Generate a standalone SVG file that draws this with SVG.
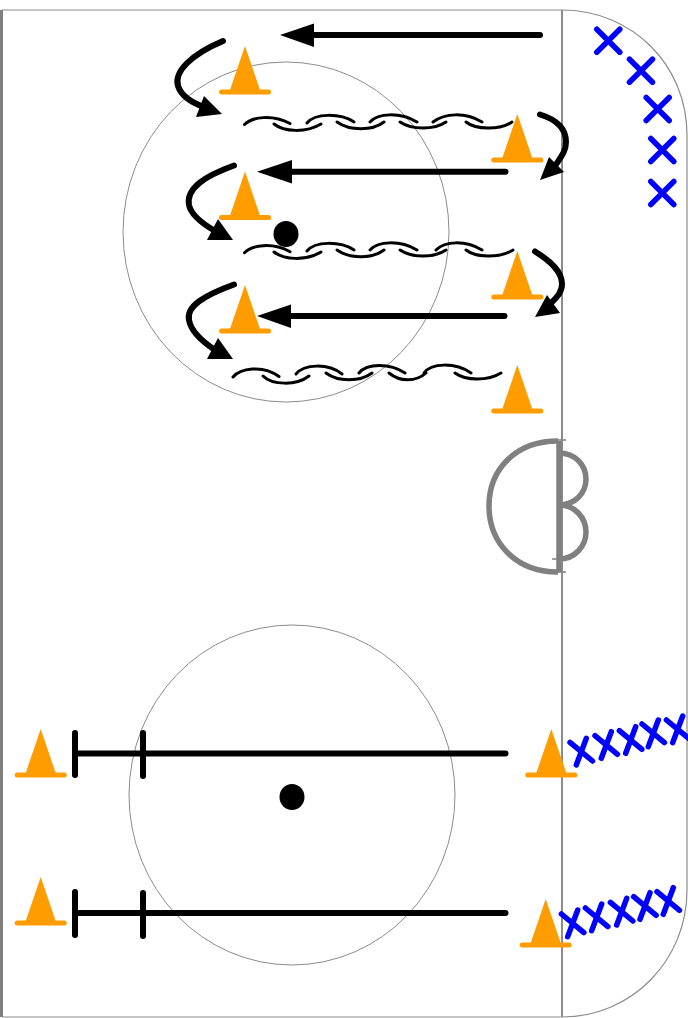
<svg xmlns="http://www.w3.org/2000/svg" width="688" height="1018" viewBox="0 0 688 1018">
<style>
.thin{fill:none;stroke:#8c8c8c;stroke-width:1}
.rim{fill:none;stroke:#8c8c8c;stroke-width:1.2}
.gray{fill:none;stroke:#808080;stroke-width:5.5}
.shot{fill:none;stroke:#000;stroke-width:6;stroke-linecap:round}
.sk{fill:none;stroke:#000;stroke-width:3;stroke-linecap:round}
.x{fill:none;stroke:#0000ff;stroke-width:5.5;stroke-linecap:round}
.head{fill:#000}
.cone{fill:#ff9c00}
.bar{fill:none;stroke:#ff9c00;stroke-width:5;stroke-linecap:round}
</style>
<defs>
<g id="c"><path class="cone" d="M0,0L15,44H-15Z"/><path class="bar" d="M-23.500,46H23.500"/></g>
<g id="b"><path class="x" d="M-11.500,-11.500L11.500,11.500M11.500,-11.500L-11.500,11.500"/></g>
<g id="s"><path class="x" d="M-11.300,-9.300L11.200,9.300M5,-13.300L-5,13.300"/></g>
</defs>
<g id="rink">
<path class="rim" d="M2,10H562C632,10 687,65 687,135V890C687,960 632,1017 562,1017H2"/>
<path d="M1.500,10V1017" fill="none" stroke="#808080" stroke-width="3"/>
<path d="M562,10V1017" fill="none" stroke="#8c8c8c" stroke-width="2"/>
<ellipse id="circle-top" class="thin" cx="286" cy="232" rx="163" ry="170"/>
<ellipse id="circle-bottom" class="thin" cx="292" cy="795" rx="163" ry="170"/>
</g>
<g id="crease">
<path class="gray" d="M558,441C515,441 489,470 489,506C489,542 515,572 558,572"/>
<path class="gray" d="M559,441V572M559,453C575,453 586,465 586,479C586,493 575,505 559,505C575,505 586,518 586,532C586,546 575,559 559,559"/>
<path d="M555,440H566M552,559H560M558,572H566" fill="none" stroke="#808080" stroke-width="1.500"/>
</g>
<g id="dot-top"><ellipse cx="286" cy="234" rx="12.500" ry="13"/></g>
<g id="dot-bottom"><ellipse cx="292" cy="797" rx="12.500" ry="13"/></g>
<g id="connectors">
<path class="shot" d="M540,35H310"/><path class="head" d="M280,35L314,23.500V47Z"/>
<path class="shot" d="M505.500,171.700H288"/><path class="head" d="M257,171.700L292,160V183.500Z"/>
<path class="shot" d="M504.500,316H288"/><path class="head" d="M257,316L291,304.500V328Z"/>
<path class="shot" d="M223,41C190,55 174,72 178,86C181,95 190,102 204,107"/><path class="head" d="M222,114L204,96L196,117Z"/>
<path class="shot" d="M234,165.500C205,176 186,188 189,205C191,215 203,224 215,231"/><path class="head" d="M233,240L218,219L207,240Z"/>
<path class="shot" d="M234,284.500C205,295 186,306 189,320C191,332 203,342 215,350"/><path class="head" d="M233,359L218,338L207,359Z"/>
<path class="shot" d="M540,114.500C558,120 566,130 566,142C566,152 560,158 555,166"/><path class="head" d="M540,180L549,157L564,172Z"/>
<path class="shot" d="M535,251.500C552,262 562,272 562,284C562,293 556,298 549,305"/><path class="head" d="M535,317L547,295L560,313Z"/>
<path class="sk" d="M244.500,124.500C252,117 272,114 290,123.500M274,124C284,132 306,133 321,124M307,123C315,113 340,113 354,122M337,122C350,131 372,131 384,122M370,122C378,113 400,112 417,122M400,122C412,130 434,130 446,122M433,122C445,113 465,112 482,122M466,122C476,130 500,130 512,122"/>
<path class="sk" d="M244.500,252.700C252,245 272,242 290,251.700M274,252C284,260 306,261 321,252M307,251C315,241 340,241 354,250M337,250C350,259 372,259 384,250M370,250C378,241 400,240 417,250M400,250C412,258 434,258 446,250M436,250C445,241 465,240 482,250M466,250C476,258 500,258 513,250"/>
<path class="sk" d="M233,377C240,369 262,364 279,376.500M263,376C272,385 296,386 309,376M296,374C304,364 328,363 342,374M326,373C338,382 360,382 372,373M359,373C367,363 390,363 405,373M389,373C400,382 416,382 426,373M424,373C431,363 455,362 471,373M455,373C466,381 488,381 501,373"/>
</g>
<g id="cone-1"><use href="#c" x="245" y="46"/></g>
<g id="cone-2"><use href="#c" x="245" y="171.500"/></g>
<g id="cone-3"><use href="#c" x="245" y="285"/></g>
<g id="cone-4"><use href="#c" x="517.300" y="114"/></g>
<g id="cone-5"><use href="#c" x="517.300" y="251"/></g>
<g id="cone-6"><use href="#c" x="517.300" y="365"/></g>
<g id="cone-7"><use href="#c" x="551.300" y="729"/></g>
<g id="cone-8"><use href="#c" x="545.700" y="899"/></g>
<g id="cone-9"><use href="#c" x="40.700" y="729"/></g>
<g id="cone-10"><use href="#c" x="40.700" y="877"/></g>
<g id="gate-1"><path class="shot" d="M505.500,753.500H75M75,733V775M143,733V776"/></g>
<g id="gate-2"><path class="shot" d="M505.500,913H75M75,892V935M143,893V936"/></g>
<g id="players-corner">
<use href="#b" x="608.300" y="40.700"/><use href="#b" x="641" y="70.700"/><use href="#b" x="657.700" y="109"/><use href="#b" x="662.300" y="150"/><use href="#b" x="662.300" y="193"/>
</g>
<g id="players-mid">
<use href="#s" x="581.300" y="751.700"/><use href="#s" x="606.300" y="745"/><use href="#s" x="630.700" y="740"/><use href="#s" x="653.300" y="733.300"/><use href="#s" x="677.700" y="729.300"/>
</g>
<g id="players-low">
<use href="#s" x="572.700" y="923.300"/><use href="#s" x="596.700" y="917.300"/><use href="#s" x="621.700" y="911.700"/><use href="#s" x="645" y="906"/><use href="#s" x="668.300" y="901"/>
</g>
</svg>
